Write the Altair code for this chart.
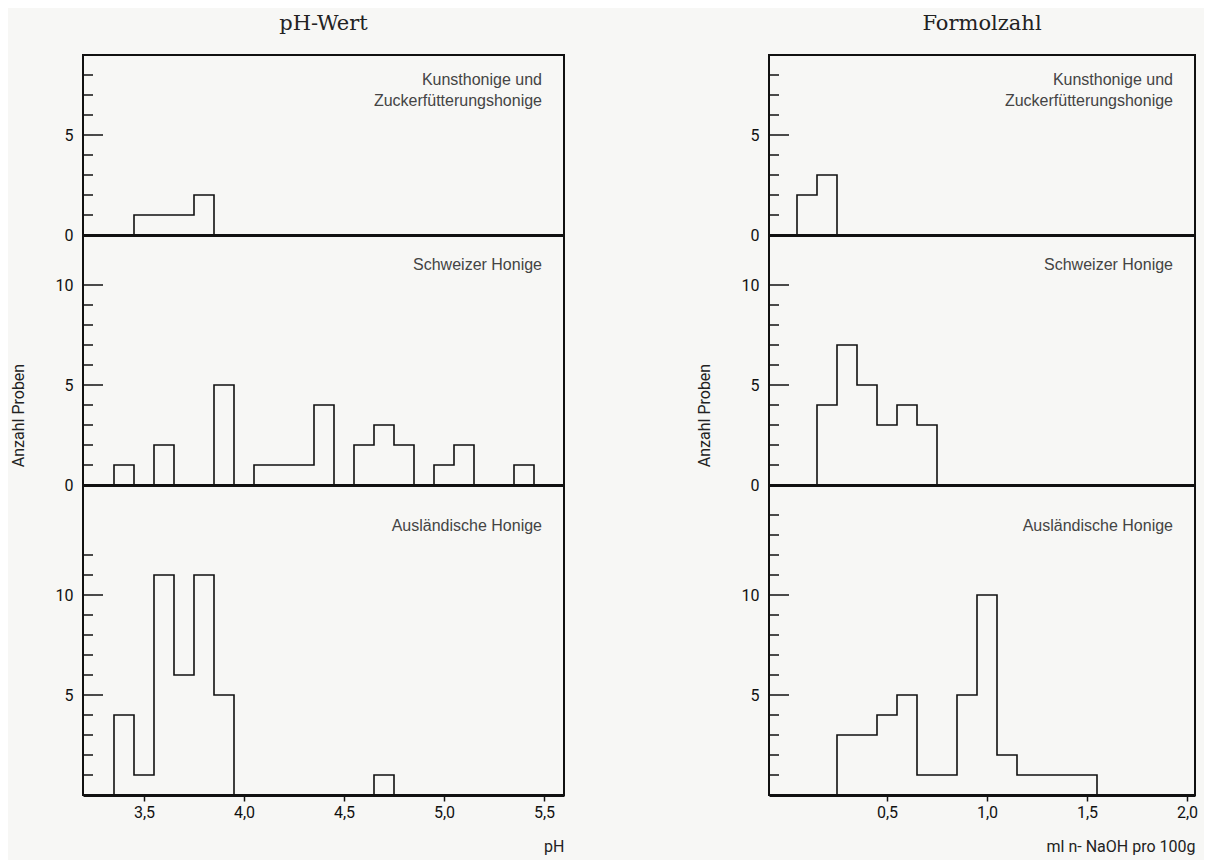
import altair as alt
import pandas as pd

# ---- data (bin centres, width 0.1, and counts) ----
ph_kunst_bins = [3.5, 3.6, 3.7, 3.8]
ph_kunst_counts = [1, 1, 1, 2]
ph_schweiz_bins = [3.4, 3.6, 3.9, 4.1, 4.2, 4.3, 4.4, 4.6, 4.7, 4.8, 5.0, 5.1, 5.4]
ph_schweiz_counts = [1, 2, 5, 1, 1, 1, 4, 2, 3, 2, 1, 2, 1]
ph_ausl_bins = [3.4, 3.5, 3.6, 3.7, 3.8, 3.9, 4.7]
ph_ausl_counts = [4, 1, 11, 6, 11, 5, 1]

formol_kunst_bins = [0.1, 0.2]
formol_kunst_counts = [2, 3]
formol_schweiz_bins = [0.2, 0.3, 0.4, 0.5, 0.6, 0.7]
formol_schweiz_counts = [4, 7, 5, 3, 4, 3]
formol_ausl_bins = [0.3, 0.4, 0.5, 0.6, 0.7, 0.8, 0.9, 1.0, 1.1, 1.2, 1.3, 1.4, 1.5]
formol_ausl_counts = [3, 3, 4, 5, 1, 1, 5, 10, 2, 1, 1, 1, 1]

BIN_WIDTH = 0.1

panel_labels = ["Kunsthonige und\nZuckerfütterungshonige", "Schweizer Honige", "Ausländische Honige"]
column_titles = ["pH-Wert", "Formolzahl"]
x_titles = ["pH", "ml n- NaOH pro  100g"]
y_title = "Anzahl  Proben"

ph_x_ticks = [3.5, 4.0, 4.5, 5.0, 5.5]
formol_x_ticks = [0.5, 1.0, 1.5, 2.0]
ph_domain = [3.195, 5.6]
formol_domain = [-0.09, 2.04]

y_labels_top = [0, 5]
y_labels_mid = [0, 5, 10]
y_labels_bot = [5, 10]
ticks_top = list(range(1, 9))
ticks_mid = list(range(1, 11))
ticks_bot_ph = list(range(1, 13))
ticks_bot_formol = list(range(1, 15))

PX_PER_UNIT = 20
Y_MAX = [9, 12.5, 15.5]

LABEL_FONT = "Roboto"
TEXT_FONT = "Liberation Sans"
TITLE_FONT = "DejaVu Serif"


def step_rows(bins, counts, w=BIN_WIDTH):
    rows = []
    run = 0
    prev = None
    for b, c in zip(bins, counts):
        if prev is None or abs(b - prev - w) > 1e-6:
            if prev is not None:
                rows.append({"x": prev + w / 2, "y": 0, "run": run, "o": len(rows)})
                run += 1
            rows.append({"x": b - w / 2, "y": 0, "run": run, "o": len(rows)})
        rows.append({"x": b - w / 2, "y": c, "run": run, "o": len(rows)})
        prev = b
    rows.append({"x": prev + w / 2, "y": 0, "run": run, "o": len(rows)})
    return pd.DataFrame(rows)


def panel(bins, counts, idx, width, xdom, ticks, ylabels, label, label_dy,
          bottom=False, xticks=None, xtitle=None, ytitle=None, title=None):
    ymax = Y_MAX[idx]
    height = int(ymax * PX_PER_UNIT)
    yscale = alt.Scale(domain=[0, ymax], nice=False, zero=True)
    xscale = alt.Scale(domain=xdom, nice=False, zero=False)

    if bottom:
        xaxis = alt.Axis(values=xticks, labelExpr="replace(format(datum.value, '.1f'), '.', ',')",
                         tickSize=6, tickWidth=1.5, tickColor="#111", domainWidth=3,
                         domainColor="#111", grid=False, labelFont=LABEL_FONT, labelFontSize=16,
                         labelColor="#111", labelPadding=3, title=xtitle, titleAnchor="end",
                         titleFont=LABEL_FONT, titleFontSize=16, titleFontWeight="normal",
                         titleColor="#222", titlePadding=18, labelFlush=False)
    else:
        xaxis = alt.Axis(labels=False, ticks=False, domainWidth=3, domainColor="#111",
                         grid=False, title=None)

    yaxis_kwargs = dict(values=ylabels, ticks=False, domain=False, grid=False,
                        labelFont=LABEL_FONT, labelFontSize=16, labelColor="#111",
                        labelPadding=10, labelBaseline="middle")
    if ytitle:
        yaxis_kwargs.update(title=ytitle, titleFont=LABEL_FONT, titleFontSize=16,
                            titleFontWeight="normal", titleColor="#222", titlePadding=29,
                            titleY=180)
    else:
        yaxis_kwargs.update(title=None)
    yaxis = alt.Axis(**yaxis_kwargs)

    df = step_rows(bins, counts)
    line = alt.Chart(df).mark_line(interpolate="step-after", color="#111", strokeWidth=1.6).encode(
        x=alt.X("x:Q", scale=xscale, axis=xaxis),
        y=alt.Y("y:Q", scale=yscale, axis=yaxis),
        detail="run:N",
        order="o:Q",
    )

    minor = [t for t in ticks if t % 5 != 0]
    major = [t for t in ticks if t % 5 == 0]
    minor_rules = alt.Chart(pd.DataFrame({"y": minor})).mark_rule(color="#111", strokeWidth=1.5).encode(
        y=alt.Y("y:Q", scale=yscale, axis=yaxis), x=alt.value(0), x2=alt.value(10))
    major_rules = alt.Chart(pd.DataFrame({"y": major})).mark_rule(color="#111", strokeWidth=1.5).encode(
        y=alt.Y("y:Q", scale=yscale, axis=yaxis), x=alt.value(0), x2=alt.value(20))

    text = alt.Chart(pd.DataFrame({"t": [label]})).mark_text(
        align="right", baseline="middle", font=TEXT_FONT, fontSize=16, color="#444",
        lineBreak="\n", lineHeight=21).encode(
        text="t:N", x=alt.value(width - 22), y=alt.value(label_dy))

    layers = [line, minor_rules]
    if major:
        layers.append(major_rules)
    layers.append(text)
    props = dict(width=width, height=height)
    if title:
        props["title"] = alt.TitleParams(text=title, font=TITLE_FONT, fontSize=21,
                                         fontWeight="normal", color="#222", anchor="middle",
                                         frame="group", offset=21)
    return alt.layer(*layers).properties(**props)


W_PH = 481
W_FORMOL = 426

left = alt.vconcat(
    panel(ph_kunst_bins, ph_kunst_counts, 0, W_PH, ph_domain, ticks_top, y_labels_top,
          panel_labels[0], 25, title=column_titles[0]),
    panel(ph_schweiz_bins, ph_schweiz_counts, 1, W_PH, ph_domain, ticks_mid, y_labels_mid,
          panel_labels[1], 30, ytitle=y_title),
    panel(ph_ausl_bins, ph_ausl_counts, 2, W_PH, ph_domain, ticks_bot_ph, y_labels_bot,
          panel_labels[2], 41, bottom=True, xticks=ph_x_ticks, xtitle=x_titles[0]),
    spacing=0, bounds="flush",
)

right = alt.vconcat(
    panel(formol_kunst_bins, formol_kunst_counts, 0, W_FORMOL, formol_domain, ticks_top, y_labels_top,
          panel_labels[0], 25, title=column_titles[1]),
    panel(formol_schweiz_bins, formol_schweiz_counts, 1, W_FORMOL, formol_domain, ticks_mid, y_labels_mid,
          panel_labels[1], 30, ytitle=y_title),
    panel(formol_ausl_bins, formol_ausl_counts, 2, W_FORMOL, formol_domain, ticks_bot_formol, y_labels_bot,
          panel_labels[2], 41, bottom=True, xticks=formol_x_ticks, xtitle=x_titles[1]),
    spacing=0, bounds="flush",
)

chart = alt.hconcat(left, right, spacing=130).properties(
    padding={"left": 1, "top": 4, "right": 5, "bottom": 5},
    background="#f7f7f5",
).configure_view(stroke="#111", strokeWidth=2)

chart.save("out.html", embed_options={"renderer": "svg", "actions": False})
